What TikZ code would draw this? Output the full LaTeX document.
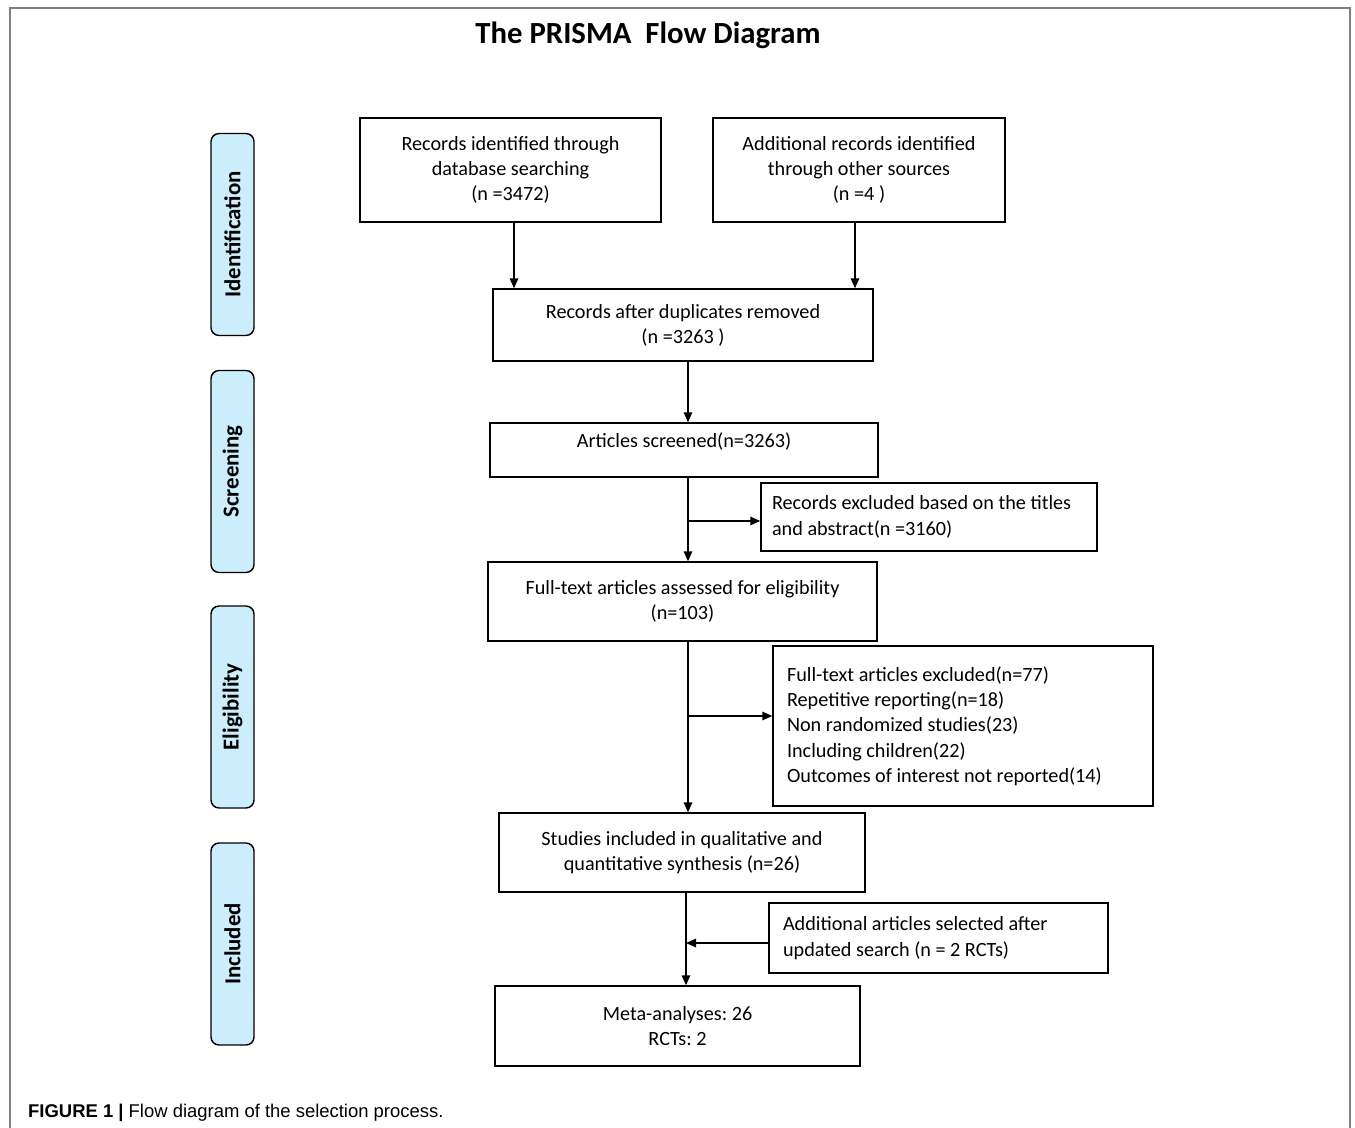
\documentclass[tikz,border=0pt]{standalone}
\usepackage{fontspec}
\setmainfont{Carlito}
\newfontfamily\capfont{Liberation Sans}
\usetikzlibrary{arrows, arrows.meta}
\usetikzlibrary{calc}
\definecolor{phaseblue}{HTML}{CCEEFC}
\tikzset{
  box/.style={draw, line width=0.8pt, inner sep=2pt, align=center,
    font=\fontsize{11.5}{14.2}\selectfont\frenchspacing},
  leftbox/.style={draw, line width=0.8pt, inner xsep=0.22cm, align=flush left,
    font=\fontsize{11.5}{14.4}\selectfont\frenchspacing},
  phase/.style={draw, line width=0.8pt, fill=phaseblue, rounded corners=0.16cm,
    rotate=90, minimum width=4.04cm, minimum height=0.86cm,
    font=\fontsize{13}{15}\selectfont\bfseries},
  arr/.style={line width=0.8pt, -{Triangle[length=2mm, width=1.7mm]}}
}
\begin{document}
\begin{tikzpicture}[x=0.02cm, y=-0.02cm]
    \useasboundingbox (0,0) rectangle (1355,1128);
    \draw[gray, line width=0.6pt] (10,1128) -- (10,8) -- (1350,8) -- (1350,1128);

    \node[font=\fontsize{17.5}{20}\selectfont\bfseries] (title) at (648,35) {The PRISMA\ \ Flow Diagram};

    \node[phase] (ident) at (232.5,234.5) {Identification};
    \node[phase] (screen) at (232.5,471.5) {Screening};
    \node[phase] (elig) at (232.5,707) {Eligibility};
    \node[phase] (inc) at (232.5,944) {Included};

    \node[box, minimum width=6.02cm, minimum height=2.08cm] (rec) at (510.5,170) {Records identified through\\database searching\\(n =3472)};
    \node[box, minimum width=5.84cm, minimum height=2.08cm] (add) at (859,170) {Additional records identified\\through other sources\\(n =4 )};
    \node[box, minimum width=7.6cm, minimum height=1.44cm] (dup) at (683,325) {Records after duplicates removed\\(n =3263 )};
    \node[box, minimum width=7.76cm, minimum height=1.08cm, text depth=0.4cm, text height=0.3cm] (scr) at (684,450) {Articles screened(n=3263)};
    \node[leftbox, text width=6.28cm, minimum height=1.36cm] (exc) at (929,517) {Records excluded based on the titles\\and abstract(n =3160)};
    \node[box, minimum width=7.78cm, minimum height=1.58cm] (full) at (682.5,601.5) {Full-text articles assessed for eligibility\\(n=103)};
    \node[leftbox, inner xsep=0.28cm, text width=7.04cm, minimum height=3.2cm] (fexc) at (963,726) {Full-text articles excluded(n=77)\\Repetitive reporting(n=18)\\Non randomized studies(23)\\Including children(22)\\Outcomes of interest not reported(14)};
    \node[box, minimum width=7.32cm, minimum height=1.58cm] (incl) at (682,852.5) {Studies included in qualitative and\\quantitative synthesis (n=26)};
    \node[leftbox, inner xsep=0.28cm, text width=6.22cm, minimum height=1.4cm] (upd) at (938.5,938) {Additional articles selected after\\updated search (n = 2 RCTs)};
    \node[box, minimum width=7.3cm, minimum height=1.6cm] (meta) at (677.5,1026) {Meta-analyses: 26\\RCTs: 2};

    \draw[arr] ([xshift=0.07cm]rec.south) -- ([xshift=0.07cm]rec.south |- dup.north);
    \draw[arr] ([xshift=-0.08cm]add.south) -- ([xshift=-0.08cm]add.south |- dup.north);
    \draw[arr] ([xshift=0.1cm]dup.south) -- ([xshift=0.1cm]dup.south |- scr.north);
    \draw[arr] ([xshift=0.08cm]scr.south) -- ([xshift=0.08cm]scr.south |- full.north);
    \draw[arr] ([xshift=0.08cm, yshift=-0.08cm]scr.south |- exc.west) -- ([yshift=-0.08cm]exc.west);
    \draw[arr] ([xshift=0.11cm]full.south) -- ([xshift=0.11cm]full.south |- incl.north);
    \draw[arr] ([xshift=0.11cm, yshift=0.2cm]full.south |- fexc.west) -- ([yshift=0.2cm]fexc.west);
    \draw[arr] ([xshift=0.08cm]incl.south) -- ([xshift=0.08cm]incl.south |- meta.north);
    \draw[arr] ([yshift=-0.1cm]upd.west) -- ([xshift=0.08cm, yshift=-0.1cm]incl.south |- upd.west);

    \node[anchor=west, font=\capfont\fontsize{10.5}{12}\selectfont] (cap) at (22,1113) {\textbf{FIGURE 1 |} Flow diagram of the selection process.};
\end{tikzpicture}
\end{document}
